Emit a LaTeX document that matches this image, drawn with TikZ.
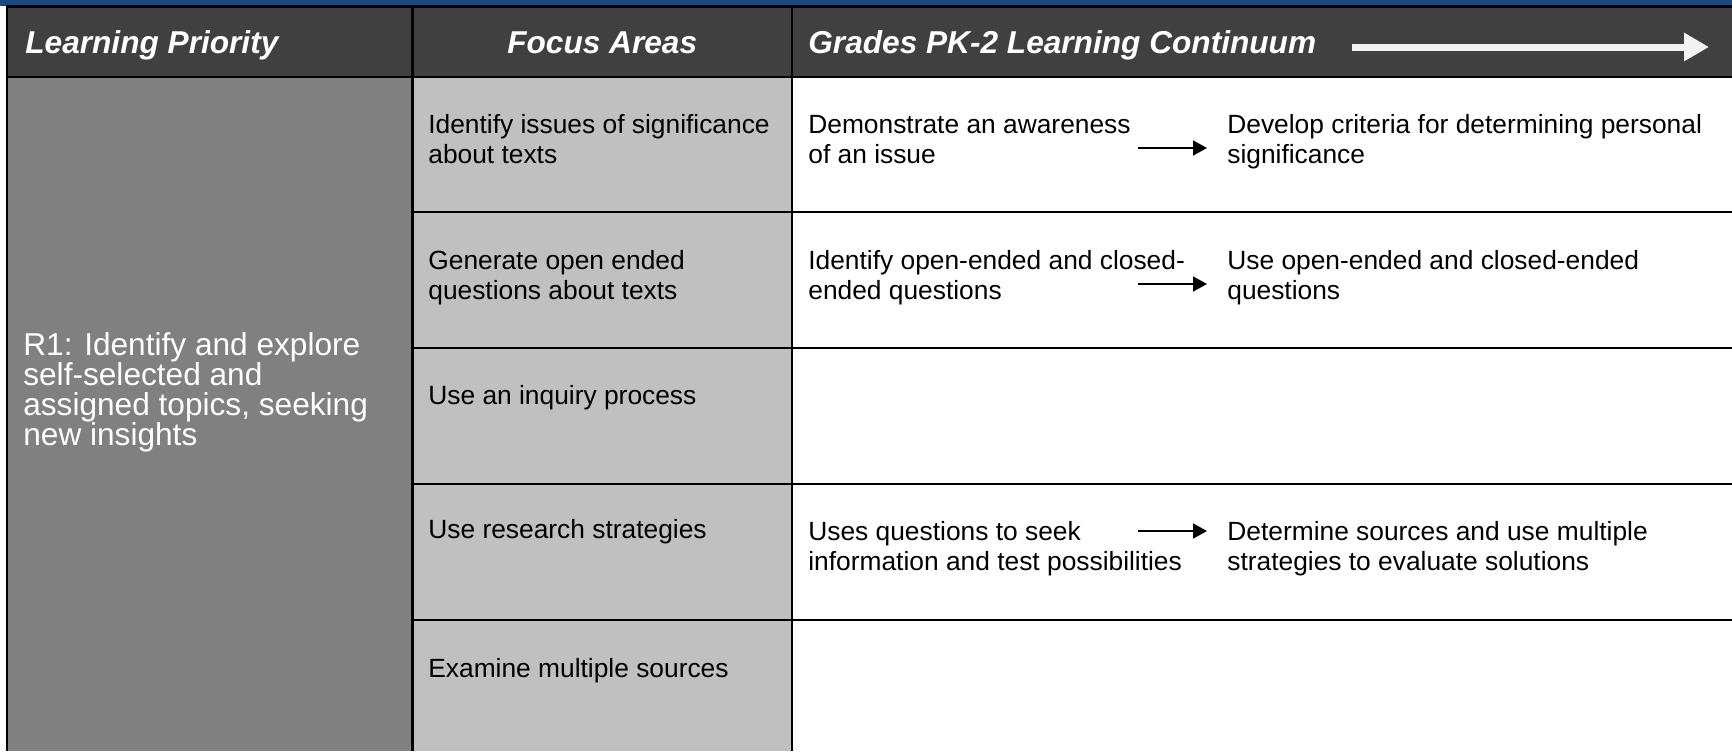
\documentclass[tikz,border=0pt]{standalone}
\usepackage{fontspec}
\setmainfont{Liberation Sans}
\usetikzlibrary{arrows.meta}
\definecolor{topband}{HTML}{1F497D}
\definecolor{headgray}{HTML}{404040}
\definecolor{priogray}{HTML}{808080}
\definecolor{focusgray}{HTML}{C0C0C0}
\definecolor{arrowwhite}{HTML}{F2F2F2}
\newcommand\priofont{\fontsize{18}{17.07}\selectfont\lineskiplimit=-10pt\relax}
\begin{document}
\begin{tikzpicture}[x=0.02cm,y=-0.02cm,
	head/.style={anchor=base west,inner sep=0pt,text=white,font=\fontsize{18}{20}\selectfont\bfseries\itshape},
	cell/.style={anchor=base west,inner sep=0pt,align=left,font=\fontsize{15}{17.07}\selectfont},
	rule/.style={line width=0.046cm},
	nextarrow/.style={-{Triangle[length=0.28cm,width=0.3cm]},line width=0.035cm}]
\def\a{412.5}
\def\b{792}
\def\c{1227}
\def\w{1732}
\useasboundingbox (0,0) rectangle (\w,751);
% bands and column fills
\fill[topband] (0,0) rectangle (\w,6);
\fill[headgray] (7,6) rectangle (\w,77);
\fill[priogray] (7,77) rectangle (\a,751);
\fill[focusgray] (\a,77) rectangle (\b,751);
% grid
\draw[rule] (6,6.5) -- (\w,6.5);
\draw[rule] (6,77) -- (\w,77);
\draw[rule] (7,6.5) -- (7,751);
\draw[rule] (\a,6.5) -- (\a,751);
\draw[rule] (\b,6.5) -- (\b,751);
\draw[rule] (\a,212) -- (\w,212);
\draw[rule] (\a,348) -- (\w,348);
\draw[rule] (\a,484) -- (\w,484);
\draw[rule] (\a,620) -- (\w,620);
% header
\node[head] (hprio) at (25,53) {Learning Priority};
\node[head,anchor=base] (hfocus) at ({0.5*(\a+\b)},53) {Focus Areas};
\node[head] (hcont) at (808,53) {Grades PK-2 Learning Continuum};
\coordinate (hs) at (1352,47);
\coordinate (he) at (1709,47);
\draw[arrowwhite,line width=0.14cm,-{Triangle[length=0.5cm,width=0.54cm]}] (hs) -- (he);
% learning priority (base = last line)
\node[cell,text=white,font=\priofont] (prio) at (23,445)
	{R1: Identify and explore\\self-selected and\\assigned topics, seeking\\new insights};
% focus areas
\node[cell] (f1) at (428,163) {Identify issues of significance\\about texts};
\node[cell] (f2) at (428,299) {Generate open ended\\questions about texts};
\node[cell] (f3) at (428,404) {Use an inquiry process};
\node[cell] (f4) at (428,538) {Use research strategies};
\node[cell] (f5) at (428,677) {Examine multiple sources};
% continuum
\node[cell] (c1a) at (808,163) {Demonstrate an awareness\\of an issue};
\node[cell] (c1b) at (\c,163) {Develop criteria for determining personal\\significance};
\node[cell] (c2a) at (808,299) {Identify open-ended and closed-\\ended questions};
\node[cell] (c2b) at (\c,299) {Use open-ended and closed-ended\\questions};
\node[cell] (c4a) at (808,570) {Uses questions to seek\\information and test possibilities};
\node[cell] (c4b) at (\c,570) {Determine sources and use multiple\\strategies to evaluate solutions};
\coordinate (s1) at (1138,148);
\coordinate (e1) at (1207,148);
\coordinate (s2) at (1138,284);
\coordinate (e2) at (1207,284);
\coordinate (s4) at (1138,531);
\coordinate (e4) at (1207,531);
\draw[nextarrow] (s1) -- (e1);
\draw[nextarrow] (s2) -- (e2);
\draw[nextarrow] (s4) -- (e4);
\end{tikzpicture}
\end{document}
